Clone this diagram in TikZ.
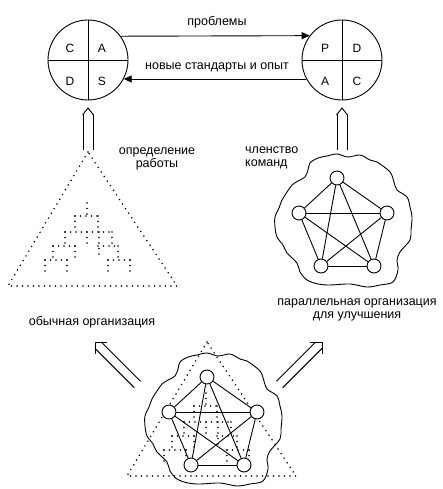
\documentclass[tikz,border=0pt]{standalone}
\usepackage{fontspec}
\setmainfont{Liberation Sans}
\usetikzlibrary{arrows.meta}

\tikzset{
  lbl/.style={font=\fontsize{12.5}{13}\selectfont, inner sep=0pt, align=center},
  pdca/.style={circle, draw, line width=0.9pt, minimum size=80pt, inner sep=0pt},
  letter/.style={font=\fontsize{12}{13}\selectfont, inner sep=0pt},
  flow/.style={line width=0.9pt, -{Triangle[length=8pt,width=7pt]}},
  hollowline/.style={line width=0.9pt},
  dots/.style={line width=1.7pt, dash pattern=on 0pt off 5.5pt, line cap=round},
  member/.style={circle, draw, fill=white, line width=0.9pt, minimum size=14pt, inner sep=0pt},
  link/.style={line width=0.9pt},
  blob/.style={line width=0.9pt},
}

% upward chevron double arrow: tip, direction angle, length
\newcommand\vhollow[3]{%
  \begin{scope}[shift={(#1)}, rotate=#2]
    \draw[hollowline] (-7,-5.5) -- (0,0) -- (-7,5.5);
    \draw[hollowline] (-6.4,-5) -- (-#3,-5);
    \draw[hollowline] (-6.4,5) -- (-#3,5);
  \end{scope}}
% right-angle head double arrow: tip, direction angle, length
\newcommand\dhollow[3]{%
  \begin{scope}[shift={(#1)}, rotate=#2]
    \draw[hollowline] (-8.5,-8.5) -- (0,0) -- (-8.5,8.5);
    \draw[hollowline] (-4.5,-4.5) -- (-#3,-4.5);
    \draw[hollowline] (-4.5,4.5) -- (-#3,4.5);
  \end{scope}}

\newcommand\orgchart{%
  \draw[dots] (87,203) -- (87,216);
  \draw[dots] (75,216) -- (98,216);
  \draw[dots] (75,216) -- (75,232);
  \draw[dots] (98,216) -- (98,232);
  \draw[dots] (65,232) -- (112,232);
  \draw[dots] (87,232) -- (87,246);
  \draw[dots] (99,232) -- (99,258);
  \draw[dots] (65,232) -- (65,246);
  \draw[dots] (112,232) -- (112,246);
  \draw[dots] (53,246) -- (77,246);
  \draw[dots] (98,246) -- (118,246);
  \draw[dots] (53,246) -- (53,260);
  \draw[dots] (75,246) -- (75,260);
  \draw[dots] (118,246) -- (118,260);
  \draw[dots] (45,260) -- (67,260);
  \draw[dots] (108,260) -- (130,260);
  \draw[dots] (45,260) -- (45,273);
  \draw[dots] (67,260) -- (67,273);
  \draw[dots] (108,260) -- (108,273);
  \draw[dots] (130,260) -- (130,273);
  \draw[dots] (88,152) -- (8,286) -- (177,286) -- cycle;
}

\newcommand\teamblob{%
  \draw[blob] plot[smooth cycle, tension=0.55] coordinates {
    (310,163) (318,158) (327,156) (337,154) (348,157) (360,155) (370,160)
    (377,162) (390,172) (394,182) (397,190) (407,197) (410,207) (412,217)
    (411,230) (410,240) (400,252) (397,260) (398,270) (393,282) (380,285)
    (367,287) (350,284) (330,285) (318,284) (307,280) (300,272) (297,263)
    (287,253) (283,245) (277,237) (275,227) (275,217) (279,208) (282,200)
    (287,192) (292,185) (298,181) (305,177) (308,170)};
}

\newcommand\teamnet[1]{%
  \node[member] (#1t)  at (337,178) {};
  \node[member] (#1l)  at (299,213) {};
  \node[member] (#1r)  at (387,213) {};
  \node[member] (#1bl) at (321,266) {};
  \node[member] (#1br) at (374,266) {};
  \draw[link] (#1t) -- (#1l);
  \draw[link] (#1t) -- (#1r);
  \draw[link] (#1l) -- (#1r);
  \draw[link] (#1bl) -- (#1br);
  \draw[link] (#1l) -- (#1bl);
  \draw[link] (#1r) -- (#1br);
  \draw[link] (#1t) -- (#1bl);
  \draw[link] (#1t) -- (#1br);
  \draw[link] (#1l) -- (#1br);
  \draw[link] (#1r) -- (#1bl);
}

\begin{document}
\begin{tikzpicture}[x=1pt, y=-1pt]
\useasboundingbox (0,0) rectangle (443,489);
\clip (0,0) rectangle (443,489);

% PDCA circles
\node[pdca] (cl) at (88,60) {};
\draw[line width=0.9pt] (cl.north) -- (cl.south);
\draw[line width=0.9pt] (cl.west) -- (cl.east);
\node[letter] (cC) at (70,48) {C};
\node[letter] (cA) at (102,48) {A};
\node[letter] (cD) at (70,81) {D};
\node[letter] (cS) at (102,81) {S};

\node[pdca] (cr) at (342,60) {};
\draw[line width=0.9pt] (cr.north) -- (cr.south);
\draw[line width=0.9pt] (cr.west) -- (cr.east);
\node[letter] (rP) at (325,48) {P};
\node[letter] (rD) at (357,48) {D};
\node[letter] (rA) at (325,81) {A};
\node[letter] (rC) at (357,81) {C};

% arrows between circles
\draw[flow] (cl.36.87) -- (cr.143.13);
\draw[flow] (cr.208.3) -- (cl.-28.3);
\node[lbl] (tprob) at (217,22) {проблемы};
\node[lbl] (tnew) at (217,67) {новые стандарты и опыт};

% left: usual organisation
\orgchart
\coordinate (lat) at (88,108);
\vhollow{lat}{90}{42}
\node[lbl] (tdef) at (157,159) {определение\\работы};
\node[lbl] (tusual) at (92,322) {обычная организация};

% right: parallel organisation
\teamblob
\teamnet{a}
\coordinate (rat) at (342,108);
\vhollow{rat}{90}{42}
\node[lbl, align=left, anchor=west] (tmem) at (245,158) {членство\\команд};
\node[lbl] (tpar) at (357,310) {параллельная организация\\для улучшения};

% bottom: combined
\begin{scope}[shift={(119,190)}]
  \orgchart
\end{scope}
\begin{scope}[shift={(-130,199)}]
  \teamblob
  \teamnet{b}
\end{scope}

\coordinate (dlt) at (95,342);
\coordinate (drt) at (322,342);
\dhollow{dlt}{135}{60}
\dhollow{drt}{45}{60}
\end{tikzpicture}
\end{document}
